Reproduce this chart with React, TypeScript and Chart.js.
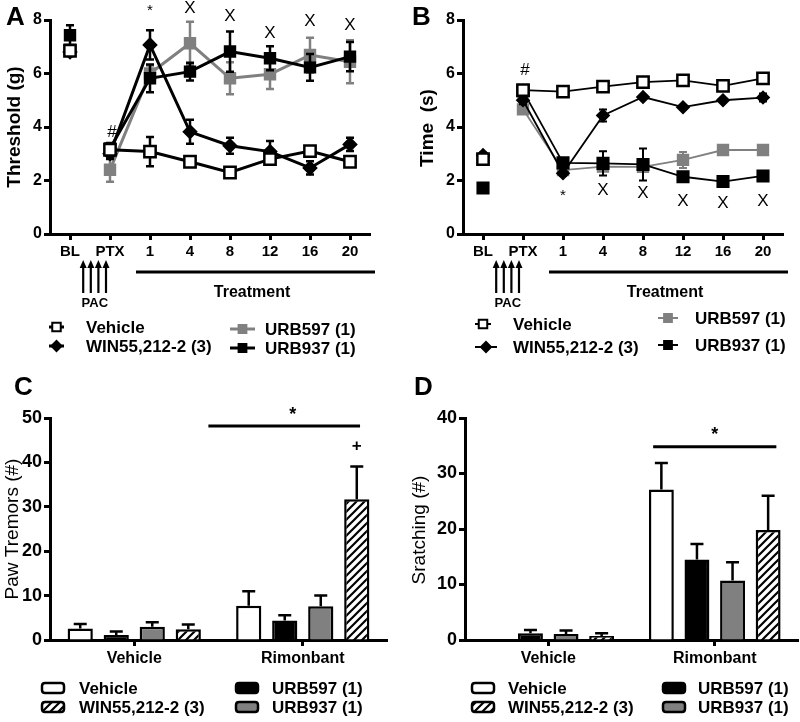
import React, { useEffect, useRef } from "react";
import { Chart, registerables } from "chart.js";

Chart.register(...registerables);

const FONT = "'Liberation Sans', Arial, Helvetica, sans-serif";
const GREY = "#808080";

// ---------- Panels A & B : time course ----------
const timeLabels = ["BL", "PTX", "1", "4", "8", "12", "16", "20"];
const seriesNames = ["Vehicle", "WIN55,212-2 (3)", "URB597 (1)", "URB937 (1)"];

// Panel A: mechanical threshold (g)
const thrVehicle = [6.85, 3.15, 3.08, 2.7, 2.3, 2.8, 3.1, 2.7];
const thrVehicleErr = [0.1, 0.15, 0.55, 0.15, 0.1, 0.2, 0.1, 0.15];
const thrWin = [6.8, 3.0, 7.07, 3.82, 3.3, 3.08, 2.47, 3.35];
const thrWinErr = [0.15, 0.2, 0.55, 0.45, 0.3, 0.4, 0.25, 0.25];
const thrUrb597 = [6.9, 2.4, 6.0, 7.13, 5.82, 5.97, 6.69, 6.44];
const thrUrb597Err = [0.1, 0.45, 0.3, 0.8, 0.6, 0.55, 0.65, 0.8];
const thrUrb937 = [7.43, 3.2, 5.82, 6.07, 6.82, 6.57, 6.23, 6.63];
const thrUrb937Err = [0.37, 0.2, 0.52, 0.33, 0.75, 0.45, 0.5, 0.55];
const thrMarks = ["", "#", "*", "X", "X", "X", "X", "X"];
const thrMarkY = [0, 3.85, 8.45, 8.5, 8.2, 7.55, 8.0, 7.85];

// Panel B: cold latency time (s)
const timeVehicle = [2.8, 5.38, 5.32, 5.51, 5.68, 5.74, 5.54, 5.82];
const timeVehicleErr = [0.1, 0.1, 0.08, 0.05, 0.08, 0.13, 0.08, 0.17];
const timeWin = [2.95, 5.0, 2.27, 4.43, 5.12, 4.74, 5.0, 5.1];
const timeWinErr = [0.1, 0.15, 0.1, 0.22, 0.05, 0.05, 0.05, 0.15];
const timeUrb597 = [2.77, 4.66, 2.39, 2.52, 2.51, 2.77, 3.14, 3.14];
const timeUrb597Err = [0.1, 0.1, 0.05, 0.1, 0.05, 0.3, 0.12, 0.1];
const timeUrb937 = [1.72, 5.35, 2.66, 2.64, 2.6, 2.14, 1.96, 2.17];
const timeUrb937Err = [0.05, 0.1, 0.1, 0.45, 0.6, 0.05, 0.13, 0.05];
const timeMarks = ["", "#", "*", "X", "X", "X", "X", "X"];
const timeMarkY = [0, 6.17, 1.55, 1.68, 1.57, 1.27, 1.2, 1.27];

// ---------- Panels C & D : withdrawal signs ----------
const groupLabels = ["Vehicle", "Rimonbant"];
const barNames = ["Vehicle", "URB597 (1)", "URB937 (1)", "WIN55,212-2 (3)"];

const tremorVehicle = [2.6, 7.7];
const tremorVehicleErr = [1.0, 3.3];
const tremorUrb597 = [1.1, 4.4];
const tremorUrb597Err = [0.8, 1.2];
const tremorUrb937 = [3.0, 7.6];
const tremorUrb937Err = [1.0, 2.4];
const tremorWin = [2.4, 31.7];
const tremorWinErr = [1.1, 7.4];

const scratchVehicle = [0, 27.1];
const scratchVehicleErr = [0, 4.8];
const scratchUrb597 = [1.2, 14.5];
const scratchUrb597Err = [0.6, 2.8];
const scratchUrb937 = [1.1, 10.7];
const scratchUrb937Err = [0.6, 3.3];
const scratchWin = [0.7, 19.8];
const scratchWinErr = [0.5, 6.2];

// ---------- helpers ----------
function drawCentered(ctx: CanvasRenderingContext2D, text: string, x: number, y: number, font: string) {
  ctx.font = font;
  const m = ctx.measureText(text);
  ctx.textAlign = "center";
  ctx.textBaseline = "alphabetic";
  ctx.fillText(text, x, y + (m.actualBoundingBoxAscent - m.actualBoundingBoxDescent) / 2);
}

function drawLeftText(ctx: CanvasRenderingContext2D, text: string, x: number, y: number, font: string) {
  ctx.font = font;
  ctx.textAlign = "left";
  ctx.textBaseline = "middle";
  ctx.fillText(text, x, y);
}

function drawMarker(ctx: CanvasRenderingContext2D, style: string, cx: number, cy: number, r: number, fill: string, stroke: string, bw: number) {
  ctx.beginPath();
  if (style === "rectRot") {
    ctx.moveTo(cx - r, cy);
    ctx.lineTo(cx, cy - r);
    ctx.lineTo(cx + r, cy);
    ctx.lineTo(cx, cy + r);
    ctx.closePath();
  } else {
    const s = r * Math.SQRT1_2;
    ctx.rect(cx - s, cy - s, 2 * s, 2 * s);
  }
  ctx.fillStyle = fill;
  ctx.fill();
  ctx.lineWidth = bw;
  ctx.strokeStyle = stroke;
  ctx.stroke();
}

function roundRect(ctx: CanvasRenderingContext2D, x: number, y: number, w: number, h: number, r: number) {
  ctx.beginPath();
  ctx.moveTo(x + r, y);
  ctx.lineTo(x + w - r, y);
  ctx.quadraticCurveTo(x + w, y, x + w, y + r);
  ctx.lineTo(x + w, y + h - r);
  ctx.quadraticCurveTo(x + w, y + h, x + w - r, y + h);
  ctx.lineTo(x + r, y + h);
  ctx.quadraticCurveTo(x, y + h, x, y + h - r);
  ctx.lineTo(x, y + r);
  ctx.quadraticCurveTo(x, y, x + r, y);
  ctx.closePath();
}

function makeHatch(): CanvasPattern | string {
  const c = document.createElement("canvas");
  c.width = 8;
  c.height = 8;
  const g = c.getContext("2d");
  if (!g) return "#fff";
  g.fillStyle = "#fff";
  g.fillRect(0, 0, 8, 8);
  g.strokeStyle = "#000";
  g.lineWidth = 2.2;
  g.beginPath();
  g.moveTo(-2, 10);
  g.lineTo(10, -2);
  g.moveTo(-6, 6);
  g.lineTo(6, -6);
  g.moveTo(2, 14);
  g.lineTo(14, 2);
  g.stroke();
  const p = g.createPattern(c, "repeat");
  return p || "#fff";
}

type LineSeries = {
  label: string;
  data: number[];
  err: number[];
  color: string;
  fill: string;
  style: string;
  radius: number;
};

type LineCfg = {
  series: LineSeries[];
  lineWidth: number;
  errWidth: number;
  pointBorder: number;
  axisWidth: number;
  padRight: number;
  title: string;
  titleX: number;
  titleY: number;
  letter: string;
  letterX: number;
  marks: string[];
  markY: number[];
  markFont: number;
  legend: { s: number; x0: number; x1: number; y: number; tx: number; r: number }[];
  legendLW: number;
};

function buildLineChart(canvas: HTMLCanvasElement, cfg: LineCfg) {
  const axisFont = { family: FONT, weight: "bold" as const };
  const annot = {
    id: "annotLine",
    beforeDatasetDraw(chart: any, args: any) {
      const ds = chart.data.datasets[args.index];
      const errs: number[] = ds.errors;
      if (!errs) return;
      const ctx = chart.ctx as CanvasRenderingContext2D;
      const ys = chart.scales.y;
      const meta = chart.getDatasetMeta(args.index);
      ctx.save();
      ctx.strokeStyle = ds.borderColor;
      ctx.lineWidth = cfg.errWidth;
      const cap = 4;
      meta.data.forEach((pt: any, i: number) => {
        const e = errs[i];
        if (!e) return;
        const v = ds.data[i];
        const yt = ys.getPixelForValue(v + e);
        const yb = ys.getPixelForValue(v - e);
        ctx.beginPath();
        ctx.moveTo(pt.x, yt);
        ctx.lineTo(pt.x, yb);
        ctx.moveTo(pt.x - cap, yt);
        ctx.lineTo(pt.x + cap, yt);
        ctx.moveTo(pt.x - cap, yb);
        ctx.lineTo(pt.x + cap, yb);
        ctx.stroke();
      });
      ctx.restore();
    },
    afterDraw(chart: any) {
      const ctx = chart.ctx as CanvasRenderingContext2D;
      const xs = chart.scales.x;
      const ys = chart.scales.y;
      const area = chart.chartArea;
      ctx.save();
      ctx.fillStyle = "#000";
      ctx.strokeStyle = "#000";
      // panel letter
      ctx.font = `bold 26px ${FONT}`;
      ctx.textAlign = "left";
      ctx.textBaseline = "alphabetic";
      ctx.fillText(cfg.letter, cfg.letterX, 25);
      // y title
      ctx.save();
      ctx.translate(cfg.titleX, cfg.titleY);
      ctx.rotate(-Math.PI / 2);
      ctx.font = `bold 19px ${FONT}`;
      ctx.textAlign = "center";
      ctx.textBaseline = "middle";
      ctx.fillText(cfg.title, 0, 0);
      ctx.restore();
      // significance marks
      cfg.marks.forEach((m, i) => {
        if (!m) return;
        const x = xs.getPixelForValue(i) + (m === "#" ? 2 : 0);
        const y = ys.getPixelForValue(cfg.markY[i]);
        const sz = m === "*" ? cfg.markFont - 2 : cfg.markFont;
        drawCentered(ctx, m, x, y, `${sz}px ${FONT}`);
      });
      // PAC arrows
      const arrowIdx = [0.33, 0.52, 0.71, 0.9];
      ctx.lineWidth = 2.2;
      arrowIdx.forEach((ix) => {
        const x = xs.getPixelForValue(ix);
        ctx.beginPath();
        ctx.moveTo(x, 293);
        ctx.lineTo(x, 266);
        ctx.stroke();
        ctx.beginPath();
        ctx.moveTo(x - 3.5, 268);
        ctx.lineTo(x, 260);
        ctx.lineTo(x + 3.5, 268);
        ctx.closePath();
        ctx.fill();
      });
      drawCentered(ctx, "PAC", xs.getPixelForValue(0.62), 302, `bold 13px ${FONT}`);
      // Treatment bar
      ctx.lineWidth = 3;
      ctx.beginPath();
      ctx.moveTo(xs.getPixelForValue(1.65), 272);
      ctx.lineTo(area.right + 5, 272);
      ctx.stroke();
      drawCentered(ctx, "Treatment", xs.getPixelForValue(4.55), 291, `bold 16px ${FONT}`);
      // legend
      cfg.legend.forEach((it) => {
        const s = cfg.series[it.s];
        ctx.lineWidth = cfg.legendLW;
        ctx.strokeStyle = s.color;
        ctx.beginPath();
        ctx.moveTo(it.x0, it.y);
        ctx.lineTo(it.x1, it.y);
        ctx.stroke();
        drawMarker(ctx, s.style, (it.x0 + it.x1) / 2, it.y, it.r, s.fill, s.color, 2);
        ctx.fillStyle = "#000";
        drawLeftText(ctx, s.label, it.tx, it.y + 1, `bold 17px ${FONT}`);
      });
      ctx.restore();
    },
  };

  return new Chart(canvas, {
    type: "line",
    data: {
      labels: timeLabels,
      datasets: cfg.series.map((s) => ({
        label: s.label,
        data: s.data,
        errors: s.err,
        borderColor: s.color,
        backgroundColor: s.fill,
        pointBackgroundColor: s.fill,
        pointBorderColor: s.color,
        pointBorderWidth: cfg.pointBorder,
        pointStyle: s.style,
        pointRadius: s.radius,
        borderWidth: cfg.lineWidth,
        tension: 0,
        fill: false,
        segment: {
          borderColor: (c: any) => (c.p0DataIndex === 0 ? "rgba(0,0,0,0)" : undefined),
        },
      })) as any,
    },
    options: {
      responsive: false,
      animation: false,
      events: [],
      devicePixelRatio: 1,
      layout: { padding: { left: 0, right: cfg.padRight, top: 20, bottom: 100 } },
      plugins: { legend: { display: false }, tooltip: { enabled: false } },
      scales: {
        x: {
          type: "category",
          offset: true,
          ticks: { color: "#000", font: { ...axisFont, size: 15 }, padding: 3, maxRotation: 0, autoSkip: false },
          grid: { offset: false, drawOnChartArea: false, drawTicks: true, tickLength: 6, tickWidth: 3, tickColor: "#000" },
          border: { color: "#000", width: 3 },
          afterFit: (s: any) => {
            s.height = 36;
          },
        },
        y: {
          min: 0,
          max: 8,
          ticks: { stepSize: 2, color: "#000", font: { ...axisFont, size: 16 }, padding: 2 },
          grid: { drawOnChartArea: false, drawTicks: true, tickLength: 6, tickWidth: 3, tickColor: "#000" },
          border: { color: "#000", width: 3 },
          afterFit: (s: any) => {
            s.width = cfg.axisWidth;
          },
        },
      },
    } as any,
    plugins: [annot],
  });
}

type BarSeries = { label: string; data: number[]; err: number[]; fill: string };

type BarCfg = {
  series: BarSeries[];
  yMax: number;
  axisWidth: number;
  padRight: number;
  title: string;
  titleX: number;
  titleY: number;
  letter: string;
  letterX: number;
  sig: { x0: number; x1: number; y: number; starIdx: number; starY: number };
  plus: { ds: number; cat: number; y: number } | null;
  legend: { s: number; bx: number; y: number; tx: number }[];
};

function buildBarChart(canvas: HTMLCanvasElement, cfg: BarCfg, hatch: CanvasPattern | string) {
  const axisFont = { family: FONT, weight: "bold" as const };
  const fillOf = (f: string) => (f === "hatch" ? hatch : f);
  const annot = {
    id: "annotBar",
    afterDatasetsDraw(chart: any) {
      const ctx = chart.ctx as CanvasRenderingContext2D;
      const ys = chart.scales.y;
      ctx.save();
      ctx.strokeStyle = "#000";
      ctx.lineWidth = 2.5;
      chart.data.datasets.forEach((ds: any, di: number) => {
        const meta = chart.getDatasetMeta(di);
        meta.data.forEach((bar: any, i: number) => {
          const e = ds.errors[i];
          if (!e) return;
          const yt = ys.getPixelForValue(ds.data[i] + e);
          ctx.beginPath();
          ctx.moveTo(bar.x, bar.y);
          ctx.lineTo(bar.x, yt);
          ctx.moveTo(bar.x - 6.5, yt);
          ctx.lineTo(bar.x + 6.5, yt);
          ctx.stroke();
        });
      });
      ctx.restore();
    },
    afterDraw(chart: any) {
      const ctx = chart.ctx as CanvasRenderingContext2D;
      const xs = chart.scales.x;
      const ys = chart.scales.y;
      ctx.save();
      ctx.fillStyle = "#000";
      ctx.strokeStyle = "#000";
      ctx.font = `bold 26px ${FONT}`;
      ctx.textAlign = "left";
      ctx.textBaseline = "alphabetic";
      ctx.fillText(cfg.letter, cfg.letterX, 25);
      ctx.save();
      ctx.translate(cfg.titleX, cfg.titleY);
      ctx.rotate(-Math.PI / 2);
      ctx.font = `19px ${FONT}`;
      ctx.textAlign = "center";
      ctx.textBaseline = "middle";
      ctx.fillText(cfg.title, 0, 0);
      ctx.restore();
      // significance line
      const sy = ys.getPixelForValue(cfg.sig.y);
      ctx.lineWidth = 3;
      ctx.beginPath();
      ctx.moveTo(xs.getPixelForValue(cfg.sig.x0), sy);
      ctx.lineTo(xs.getPixelForValue(cfg.sig.x1), sy);
      ctx.stroke();
      drawCentered(ctx, "*", xs.getPixelForValue(cfg.sig.starIdx), ys.getPixelForValue(cfg.sig.starY), `bold 18px ${FONT}`);
      if (cfg.plus) {
        const bar = chart.getDatasetMeta(cfg.plus.ds).data[cfg.plus.cat];
        drawCentered(ctx, "+", bar.x, ys.getPixelForValue(cfg.plus.y), `bold 17px ${FONT}`);
      }
      // legend
      cfg.legend.forEach((it) => {
        const s = cfg.series[it.s];
        roundRect(ctx, it.bx, it.y - 5, 22, 10, 3);
        ctx.fillStyle = fillOf(s.fill) as any;
        ctx.fill();
        ctx.lineWidth = 2.5;
        ctx.strokeStyle = "#000";
        ctx.stroke();
        ctx.fillStyle = "#000";
        drawLeftText(ctx, s.label, it.tx, it.y + 1, `bold 17px ${FONT}`);
      });
      ctx.restore();
    },
  };

  return new Chart(canvas, {
    type: "bar",
    data: {
      labels: groupLabels,
      datasets: cfg.series.map((s) => ({
        label: s.label,
        data: s.data,
        errors: s.err,
        backgroundColor: fillOf(s.fill),
        borderColor: "#000",
        borderWidth: 2.5,
        categoryPercentage: 0.855,
        barPercentage: 0.7,
      })) as any,
    },
    options: {
      responsive: false,
      animation: false,
      events: [],
      devicePixelRatio: 1,
      layout: { padding: { left: 0, right: cfg.padRight, top: 48, bottom: 52 } },
      plugins: { legend: { display: false }, tooltip: { enabled: false } },
      scales: {
        x: {
          ticks: { color: "#000", font: { ...axisFont, size: 16 }, padding: 3, maxRotation: 0 },
          grid: { offset: false, drawOnChartArea: false, drawTicks: true, tickLength: 6, tickWidth: 3, tickColor: "#000" },
          border: { color: "#000", width: 3 },
          afterFit: (s: any) => {
            s.height = 30;
          },
        },
        y: {
          min: 0,
          max: cfg.yMax,
          ticks: { stepSize: 10, color: "#000", font: { ...axisFont, size: 18 }, padding: 2 },
          grid: { drawOnChartArea: false, drawTicks: true, tickLength: 6, tickWidth: 3, tickColor: "#000" },
          border: { color: "#000", width: 3 },
          afterFit: (s: any) => {
            s.width = cfg.axisWidth;
          },
        },
      },
    } as any,
    plugins: [annot],
  });
}

export default function App() {
  const aRef = useRef<HTMLCanvasElement>(null);
  const bRef = useRef<HTMLCanvasElement>(null);
  const cRef = useRef<HTMLCanvasElement>(null);
  const dRef = useRef<HTMLCanvasElement>(null);

  useEffect(() => {
    const hatch = makeHatch();

    const seriesA: LineSeries[] = [
      { label: seriesNames[0], data: thrVehicle, err: thrVehicleErr, color: "#000", fill: "#fff", style: "rect", radius: 8 },
      { label: seriesNames[1], data: thrWin, err: thrWinErr, color: "#000", fill: "#000", style: "rectRot", radius: 6 },
      { label: seriesNames[3], data: thrUrb937, err: thrUrb937Err, color: "#000", fill: "#000", style: "rect", radius: 7 },
      { label: seriesNames[2], data: thrUrb597, err: thrUrb597Err, color: GREY, fill: GREY, style: "rect", radius: 7 },
    ];
    const seriesB: LineSeries[] = [
      { label: seriesNames[0], data: timeVehicle, err: timeVehicleErr, color: "#000", fill: "#fff", style: "rect", radius: 8 },
      { label: seriesNames[1], data: timeWin, err: timeWinErr, color: "#000", fill: "#000", style: "rectRot", radius: 5.5 },
      { label: seriesNames[3], data: timeUrb937, err: timeUrb937Err, color: "#000", fill: "#000", style: "rect", radius: 7.5 },
      { label: seriesNames[2], data: timeUrb597, err: timeUrb597Err, color: GREY, fill: GREY, style: "rect", radius: 7 },
    ];

    const chartA = buildLineChart(aRef.current!, {
      series: seriesA,
      lineWidth: 3,
      errWidth: 2.5,
      pointBorder: 2.5,
      axisWidth: 50,
      padRight: 30,
      title: "Threshold (g)",
      titleX: 15,
      titleY: 127,
      letter: "A",
      letterX: 6,
      marks: thrMarks,
      markY: thrMarkY,
      markFont: 17,
      legend: [
        { s: 0, x0: 49, x1: 64, y: 327, tx: 86, r: 6 },
        { s: 1, x0: 49, x1: 64, y: 346, tx: 86, r: 5 },
        { s: 3, x0: 230, x1: 255, y: 329, tx: 265, r: 5.5 },
        { s: 2, x0: 230, x1: 255, y: 348, tx: 265, r: 5.5 },
      ],
      legendLW: 3,
    });

    const chartB = buildLineChart(bRef.current!, {
      series: seriesB,
      lineWidth: 1.8,
      errWidth: 2,
      pointBorder: 2.5,
      axisWidth: 63,
      padRight: 17,
      title: "Time  (s)",
      titleX: 28,
      titleY: 128,
      letter: "B",
      letterX: 12,
      marks: timeMarks,
      markY: timeMarkY,
      markFont: 17,
      legend: [
        { s: 0, x0: 75, x1: 91, y: 324, tx: 113, r: 6 },
        { s: 1, x0: 75, x1: 97, y: 347, tx: 113, r: 5 },
        { s: 3, x0: 258, x1: 278, y: 318, tx: 295, r: 5.5 },
        { s: 2, x0: 258, x1: 278, y: 345, tx: 295, r: 5.5 },
      ],
      legendLW: 2,
    });

    const barsC: BarSeries[] = [
      { label: barNames[0], data: tremorVehicle, err: tremorVehicleErr, fill: "#fff" },
      { label: barNames[1], data: tremorUrb597, err: tremorUrb597Err, fill: "#000" },
      { label: barNames[2], data: tremorUrb937, err: tremorUrb937Err, fill: GREY },
      { label: barNames[3], data: tremorWin, err: tremorWinErr, fill: "hatch" },
    ];
    const barsD: BarSeries[] = [
      { label: barNames[0], data: scratchVehicle, err: scratchVehicleErr, fill: "#fff" },
      { label: barNames[1], data: scratchUrb597, err: scratchUrb597Err, fill: "#000" },
      { label: barNames[2], data: scratchUrb937, err: scratchUrb937Err, fill: GREY },
      { label: barNames[3], data: scratchWin, err: scratchWinErr, fill: "hatch" },
    ];

    const chartC = buildBarChart(
      cRef.current!,
      {
        series: barsC,
        yMax: 50,
        axisWidth: 50,
        padRight: 13,
        title: "Paw Tremors (#)",
        titleX: 13,
        titleY: 159,
        letter: "C",
        letterX: 14,
        sig: { x0: 0.44, x1: 1.34, y: 48.2, starIdx: 0.94, starY: 51.8 },
        plus: { ds: 3, cat: 1, y: 43.7 },
        legend: [
          { s: 0, bx: 42, y: 318, tx: 79 },
          { s: 3, bx: 42, y: 337, tx: 79 },
          { s: 1, bx: 236, y: 318, tx: 272 },
          { s: 2, bx: 236, y: 337, tx: 272 },
        ],
      },
      hatch
    );

    const chartD = buildBarChart(
      dRef.current!,
      {
        series: barsD,
        yMax: 40,
        axisWidth: 65,
        padRight: 2,
        title: "Sratching (#)",
        titleX: 20,
        titleY: 160,
        letter: "D",
        letterX: 14,
        sig: { x0: 0.63, x1: 1.37, y: 34.8, starIdx: 1.0, starY: 37.8 },
        plus: null,
        legend: [
          { s: 0, bx: 72, y: 318, tx: 108 },
          { s: 3, bx: 72, y: 337, tx: 108 },
          { s: 1, bx: 263, y: 318, tx: 298 },
          { s: 2, bx: 263, y: 337, tx: 298 },
        ],
      },
      hatch
    );

    return () => {
      chartA.destroy();
      chartB.destroy();
      chartC.destroy();
      chartD.destroy();
    };
  }, []);

  const cs = (l: number, t: number): React.CSSProperties => ({ position: "absolute", left: l, top: t });

  return (
    <div style={{ position: "absolute", left: 0, top: 0, width: 800, height: 722, background: "#fff", overflow: "hidden" }}>
      <canvas ref={aRef} width={400} height={370} style={{ ...cs(0, 0), width: 400, height: 370 }} />
      <canvas ref={bRef} width={400} height={370} style={{ ...cs(400, 0), width: 400, height: 370 }} />
      <canvas ref={cRef} width={400} height={352} style={{ ...cs(0, 370), width: 400, height: 352 }} />
      <canvas ref={dRef} width={400} height={352} style={{ ...cs(400, 370), width: 400, height: 352 }} />
    </div>
  );
}
